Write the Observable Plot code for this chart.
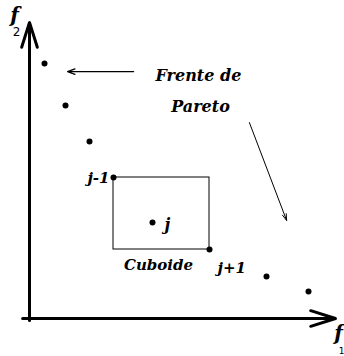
<!DOCTYPE html>
<html>
<head>
<meta charset="utf-8">
<script src="https://cdn.jsdelivr.net/npm/d3@7"></script>
<script src="https://cdn.jsdelivr.net/npm/@observablehq/plot@0.6"></script>
<style>
  html, body { margin: 0; padding: 0; background: #fff; }
  #chart svg { display: block; }
</style>
</head>
<body>
<div id="chart"></div>
<script>
// Pareto front points (f1, f2)
const f1 = [0.5, 1.2, 2.0, 2.8, 4.1, 6.0, 7.9, 9.3];
const f2 = [8.5, 7.1, 5.9, 4.7, 3.2, 2.3, 1.4, 0.9];
// index of point j and its neighbours
const jIndex = 4;

// axes (start -> end)
const axisX1 = [0, -0.23];
const axisY1 = [-0.07, 0];
const axisX2 = [0, 10.2];
const axisY2 = [9.87, 0];

// annotation arrows
const noteX1 = [3.47, 7.33];
const noteY1 = [8.23, 6.53];
const noteX2 = [1.27, 8.57];
const noteY2 = [8.23, 3.27];

// labels
const frenteText = ["Frente de", "Pareto"];
const frenteX = [5.63, 5.7];
const frenteY = [8.1, 7.07];

const points = f1.map((x, i) => ({x, y: f2[i]}));
const prev = points[jIndex - 1], cur = points[jIndex], next = points[jIndex + 1];
const cuboid = [{x1: prev.x, x2: next.x, y1: next.y, y2: prev.y}];
const axes = axisX1.map((_, i) => ({x1: axisX1[i], y1: axisY1[i], x2: axisX2[i], y2: axisY2[i]}));
const notes = noteX1.map((_, i) => ({x1: noteX1[i], y1: noteY1[i], x2: noteX2[i], y2: noteY2[i]}));
const frente = frenteText.map((t, i) => ({t, x: frenteX[i], y: frenteY[i]}));

const serif = {fontFamily: "'DejaVu Serif', 'Liberation Serif', serif", fontWeight: "bold", fontStyle: "italic", fill: "black"};

const chart = Plot.plot({
  width: 344,
  height: 356,
  marginLeft: 29,
  marginRight: 15,
  marginTop: 18,
  marginBottom: 38,
  x: {domain: [0, 10], axis: null},
  y: {domain: [0, 10], axis: null},
  style: {background: "white", overflow: "visible"},
  marks: [
    Plot.arrow(axes, {x1: "x1", y1: "y1", x2: "x2", y2: "y2", stroke: "black", strokeWidth: 3, headLength: 13, headAngle: 35}),
    Plot.rect(cuboid, {x1: "x1", x2: "x2", y1: "y1", y2: "y2", fill: "none", stroke: "black", strokeWidth: 1}),
    Plot.arrow(notes.slice(0, 1), {x1: "x1", y1: "y1", x2: "x2", y2: "y2", stroke: "black", strokeWidth: 1.3, headLength: 9, headAngle: 40}),
    Plot.arrow(notes.slice(1), {x1: "x1", y1: "y1", x2: "x2", y2: "y2", stroke: "black", strokeWidth: 1, headLength: 10, headAngle: 35}),
    Plot.dot(points, {x: "x", y: "y", r: 3, fill: "black"}),
    Plot.text(frente, {x: "x", y: "y", text: "t", fontSize: 16, ...serif}),
    Plot.text([prev], {x: "x", y: "y", text: () => "j-1", textAnchor: "end", dx: -4, dy: 1, fontSize: 15, ...serif}),
    Plot.text([cur], {x: "x", y: "y", text: () => "j", textAnchor: "start", dx: 12, dy: 2, fontSize: 16, ...serif}),
    Plot.text([next], {x: "x", y: "y", text: () => "j+1", textAnchor: "start", dx: 8, dy: 19, fontSize: 15, ...serif}),
    Plot.text([{x: 4.3, y: 1.77}], {x: "x", y: "y", text: () => "Cuboide", fontSize: 15, ...serif}),
    Plot.text([{x: 0, y: axisY2[0]}], {x: "x", y: "y", text: () => "f", dx: -15, dy: -7, fontSize: 20, ...serif}),
    Plot.text([{x: 0, y: axisY2[0]}], {x: "x", y: "y", text: () => "2", dx: -13, dy: 10, fontSize: 12, fontFamily: "'DejaVu Sans', sans-serif", fill: "black"}),
    Plot.text([{x: axisX2[1], y: 0}], {x: "x", y: "y", text: () => "f", dx: 3, dy: 15, fontSize: 20, ...serif}),
    Plot.text([{x: axisX2[1], y: 0}], {x: "x", y: "y", text: () => "1", dx: 6, dy: 33, fontSize: 9, fontFamily: "'DejaVu Sans', sans-serif", fill: "black"})
  ]
});
document.getElementById("chart").appendChild(chart);
</script>
</body>
</html>
